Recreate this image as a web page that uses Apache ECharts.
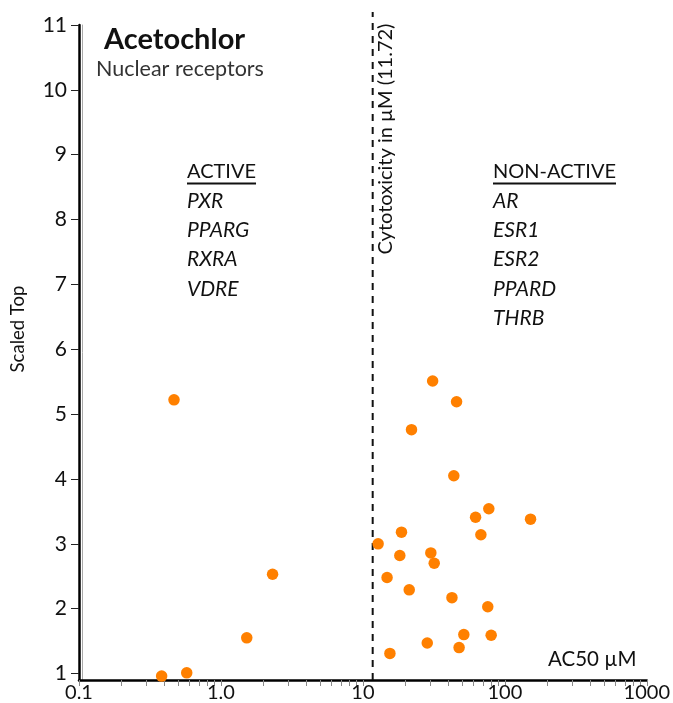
<!DOCTYPE html>
<html><head><meta charset="utf-8">
<script src="https://cdn.jsdelivr.net/npm/echarts@6/dist/echarts.min.js"></script>
<style>html,body{margin:0;padding:0;background:#fff}#c{width:673px;height:703px}</style>
</head><body><div id="c"></div>
<script>
// ---- data ----
const xTickValues = [0.1, 1, 10, 100, 1000];
const xTickTexts = ['0.1', '1.0', '10', '100', '1000'];
const yTickValues = [1, 2, 3, 4, 5, 6, 7, 8, 9, 10, 11];
const ac50 = [0.467, 0.382, 0.574, 1.52, 2.31,
  31.0, 45.7, 22.0, 43.7, 77.1, 62.2, 151.7, 18.7, 67.8, 12.8, 18.2,
  30.1, 31.8, 14.8, 21.2, 42.4, 75.8, 51.4, 80.1, 28.4, 47.6, 15.5];
const scaledTop = [5.22, 0.96, 1.01, 1.55, 2.53,
  5.51, 5.19, 4.76, 4.05, 3.54, 3.41, 3.38, 3.18, 3.14, 3.00, 2.82,
  2.86, 2.70, 2.48, 2.29, 2.17, 2.03, 1.60, 1.59, 1.47, 1.40, 1.31];
const cytotoxicity = 11.72;
const cytoLineY = [0.9, 11.2];
const activeList = ['PXR', 'PPARG', 'RXRA', 'VDRE'];
const nonActiveList = ['AR', 'ESR1', 'ESR2', 'PPARD', 'THRB'];

// ---- build ----
const FONT = 'Lato, "Open Sans", sans-serif';
const minorTicks = [];
xTickValues.forEach(function (d, i) {
  if (i < xTickValues.length - 1) { for (let k = 1; k <= 9; k++) minorTicks.push(+(d * k).toPrecision(3)); }
  else minorTicks.push(d);
});
const points = ac50.map(function (x, i) { return [x, scaledTop[i]]; });

const cv = document.createElement('canvas').getContext('2d');
function tw(text, font) { cv.font = font; return cv.measureText(text).width; }

const graphics = [];
function addList(header, items, x) {
  const hf = '20px ' + FONT;
  graphics.push({ type: 'text', x: x, y: 172, style: { text: header, font: hf, fill: '#111', verticalAlign: 'middle' } });
  graphics.push({ type: 'line', shape: { x1: x, y1: 183.5, x2: x + tw(header, hf), y2: 183.5 }, style: { stroke: '#111', lineWidth: 2 } });
  items.forEach(function (t, i) {
    graphics.push({ type: 'text', x: x, y: 201 + i * 29.3, style: { text: t, font: 'italic 21px ' + FONT, fill: '#111', verticalAlign: 'middle' } });
  });
}
addList('ACTIVE', activeList, 187);
addList('NON-ACTIVE', nonActiveList, 493);
graphics.push({ type: 'text', x: 104, y: 40, style: { text: 'Acetochlor', font: 'bold 29px ' + FONT, fill: '#111', verticalAlign: 'middle' } });
graphics.push({ type: 'text', x: 96, y: 69, style: { text: 'Nuclear receptors', font: '21.5px ' + FONT, fill: '#333', verticalAlign: 'middle' } });
graphics.push({ type: 'text', x: 18, y: 329, rotation: Math.PI / 2, style: { text: 'Scaled Top', font: '18.5px ' + FONT, fill: '#111', align: 'center', verticalAlign: 'middle' } });
graphics.push({ type: 'text', x: 386, y: 139, rotation: Math.PI / 2, style: { text: 'Cytotoxicity in \u00b5M (' + cytotoxicity + ')', font: '20px ' + FONT, fill: '#111', align: 'center', verticalAlign: 'middle' } });
graphics.push({ type: 'text', x: 548, y: 659, style: { text: 'AC50 \u00b5M', font: '20.5px ' + FONT, fill: '#111', verticalAlign: 'middle' } });

const chart = echarts.init(document.getElementById('c'), null, { renderer: 'canvas' });
chart.setOption({
  animation: false,
  backgroundColor: '#fff',
  textStyle: { fontFamily: FONT },
  grid: { left: 79, right: 26, top: 25, bottom: 21.5, containLabel: false },
  xAxis: {
    type: 'log', logBase: 10, min: 0.1, max: 1000,
    axisLine: { lineStyle: { color: '#000', width: 2.5 } },
    axisTick: { show: true, customValues: minorTicks, length: 6, lineStyle: { color: '#888', width: 1 } },
    axisLabel: {
      customValues: xTickValues, margin: 3, fontSize: 20, color: '#111', fontFamily: FONT,
      formatter: function (v) { const i = xTickValues.findIndex(function (t) { return Math.abs(t - v) / t < 1e-6; }); return i >= 0 ? xTickTexts[i] : ''; }
    },
    splitLine: { show: false }, minorTick: { show: false }
  },
  yAxis: [{
    type: 'value', min: 0.9, max: 11,
    axisLine: { show: true, lineStyle: { color: '#000', width: 2.5 } },
    axisTick: { show: true, customValues: yTickValues, length: 8, lineStyle: { color: '#222', width: 1 } },
    axisLabel: { customValues: yTickValues, margin: 12, fontSize: 21, color: '#111', fontFamily: FONT },
    splitLine: { show: false }
  }, {
    type: 'value', min: 0.9, max: 11, position: 'left', offset: -3,
    axisLine: { show: true, lineStyle: { color: '#aaa', width: 1 } },
    axisTick: { show: false }, axisLabel: { show: false }, splitLine: { show: false }
  }],
  series: [{
    type: 'scatter', data: points, symbolSize: 11.5,
    itemStyle: { color: '#ff8000', opacity: 1 }, z: 5
  }, {
    type: 'line', data: cytoLineY.map(function (y) { return [cytotoxicity, y]; }),
    symbol: 'none', clip: false,
    lineStyle: { color: '#111', width: 2, type: [7, 6] }, z: 4
  }],
  graphic: graphics
});
</script>
</body></html>
